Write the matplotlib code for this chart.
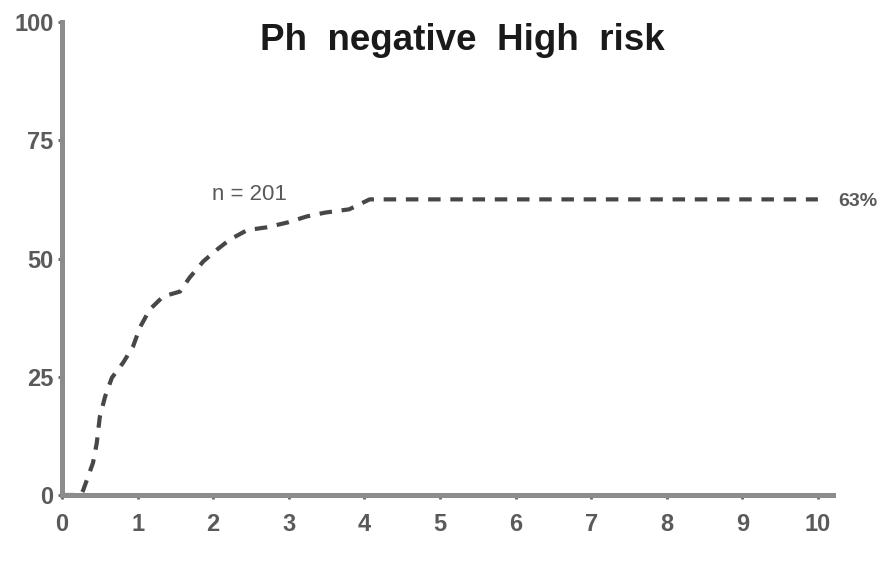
import numpy as np
import matplotlib.pyplot as plt

# Cumulative incidence curve, Ph negative high risk group
years = [0.0, 0.25, 0.28, 0.41, 0.46, 0.50, 0.57, 0.66, 0.81, 0.94, 1.03, 1.16,
         1.34, 1.56, 1.69, 1.87, 2.06, 2.22, 2.45, 2.71, 2.98, 3.24, 3.48, 3.80,
         4.07, 10.0]
percent = [0.0, 0.0, 1.0, 6.8, 11.0, 16.5, 20.8, 24.8, 28.0, 31.4, 35.4, 39.2,
           42.0, 43.0, 46.0, 49.4, 52.0, 54.0, 56.0, 56.6, 57.6, 58.9, 59.7, 60.4,
           62.5, 62.5]
x_ticks = list(range(0, 11))
y_ticks = [0, 25, 50, 75, 100]
n_label = 'n = 201'
end_label = '63%'
title = 'Ph  negative  High  risk'

plt.rcParams['lines.scale_dashes'] = False
plt.rcParams['font.family'] = ['Liberation Sans', 'DejaVu Sans']
axis_grey = '#8c8c8c'
text_grey = '#5a5a5a'

fig = plt.figure(figsize=(8.77, 5.62), dpi=100)
ax = fig.add_axes([62 / 877, 67 / 562, (833 - 62) / 877, (495 - 22) / 562])

ax.plot(years, percent, color='#474747', lw=3.0, dashes=(9, 7),
        dash_capstyle='butt', clip_on=False)

ax.set_xlim(0, 10.2)
ax.set_ylim(0, 100)
ax.set_xticks(x_ticks)
ax.set_yticks(y_ticks)

for side in ['top', 'right']:
    ax.spines[side].set_visible(False)
for side in ['left', 'bottom']:
    ax.spines[side].set_color(axis_grey)
    ax.spines[side].set_linewidth(3.6)
ax.tick_params(length=3, width=2, color='#666666', direction='out',
               labelsize=17, labelcolor=text_grey)
ax.tick_params(axis='x', pad=10)
ax.tick_params(axis='y', pad=3)
for lab in ax.get_xticklabels() + ax.get_yticklabels():
    lab.set_fontweight('bold')

fig.text(462 / 877, 1 - 40 / 562, title, ha='center', va='center',
         fontsize=26.5, fontweight='bold', color='#1a1a1a')
ax.text(2.48, 63.5, n_label, ha='center', va='center', fontsize=16,
        color=text_grey)
ax.text(10.53, 62.0, end_label, ha='center', va='center', fontsize=14,
        fontweight='bold', color=text_grey, clip_on=False)

fig.savefig('out.png', dpi=100)
